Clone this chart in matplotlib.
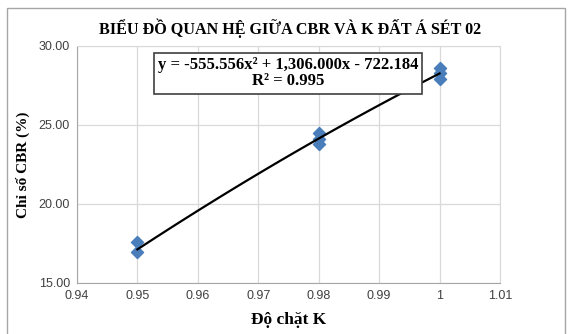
import numpy as np
import matplotlib
matplotlib.use("Agg")
import matplotlib.pyplot as plt
from matplotlib.patches import Rectangle

# data
k_values = [0.95, 0.95, 0.98, 0.98, 0.98, 1.00, 1.00, 1.00]
cbr_values = [17.6, 16.95, 24.5, 24.1, 23.8, 28.6, 28.3, 27.9]
trend_coef = [-555.556, 1306.000, -722.184]
x_ticks = [0.94, 0.95, 0.96, 0.97, 0.98, 0.99, 1.00, 1.01]
x_tick_labels = ['0.94', '0.95', '0.96', '0.97', '0.98', '0.99', '1', '1.01']
y_ticks = [15, 20, 25, 30]

serif = 'Liberation Serif'
sans = 'Liberation Sans'

fig = plt.figure(figsize=(5.69, 3.34), dpi=100)
ax = fig.add_axes([0.1353, 0.1527, 0.7434, 0.7096])

# outer chart border
fig.patches.append(Rectangle((7/569, -0.01), 558/569, 1 - 8/334 + 0.01,
                             transform=fig.transFigure, fill=False,
                             edgecolor='#a6a6a6', linewidth=1.0))

ax.set_xlim(0.94, 1.01)
ax.set_ylim(15, 30)
ax.set_xticks(x_ticks)
ax.set_xticklabels(x_tick_labels)
ax.set_yticks(y_ticks)
ax.set_yticklabels(['%.2f' % v for v in y_ticks])
ax.grid(True, color='#d9d9d9', linewidth=0.9)
ax.set_axisbelow(True)
for s in ax.spines.values():
    s.set_color('#d9d9d9')
ax.spines['left'].set_color('#a6a6a6')
ax.spines['bottom'].set_color('#a6a6a6')
ax.tick_params(length=0, pad=5, labelsize=9, colors='#404040')
for lab in ax.get_xticklabels() + ax.get_yticklabels():
    lab.set_family(sans)

ax.scatter(k_values, cbr_values, marker='D', s=38, color='#4a7ebb',
           edgecolors='#4a7ebb', zorder=3)

xs = np.linspace(min(k_values), max(k_values), 100)
ax.plot(xs, np.polyval(trend_coef, xs), color='black', linewidth=1.6, zorder=4)

fig.text(0.51, 0.915, 'BIỂU ĐỒ QUAN HỆ GIỮA CBR VÀ K ĐẤT Á SÉT 02',
         ha='center', va='center', family=serif, weight='bold', fontsize=11.6)

ax.text(0.499, 0.884, 'y = -555.556x² + 1,306.000x - 722.184\nR² = 0.995',
        transform=ax.transAxes, ha='center', va='center', family=serif,
        weight='bold', fontsize=12, linespacing=1.0,
        bbox=dict(boxstyle='square,pad=0.25', facecolor='white',
                  edgecolor='#404040', linewidth=1.2), zorder=5)

ax.set_xlabel('Độ chặt K', family=serif, weight='bold', fontsize=12.5, labelpad=7)
ax.set_ylabel('Chỉ số CBR (%)', family=serif, weight='bold', fontsize=11, labelpad=6)

fig.savefig('out.png', dpi=100)
